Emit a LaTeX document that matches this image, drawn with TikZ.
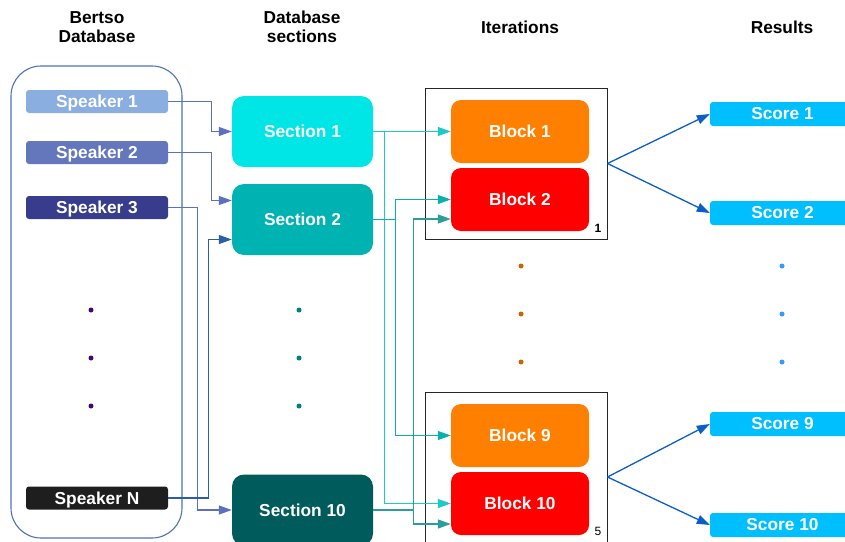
\documentclass[tikz,border=0pt]{standalone}
\usepackage{fontspec}
\setmainfont{Liberation Sans}
\usetikzlibrary{arrows.meta}
\definecolor{spkA}{HTML}{8AAEE0}
\definecolor{spkB}{HTML}{6477BD}
\definecolor{spkC}{HTML}{373D8C}
\definecolor{spkN}{HTML}{1E1E1E}
\definecolor{dbc}{HTML}{4E72B5}
\definecolor{secA}{HTML}{00E5E5}
\definecolor{secB}{HTML}{00B3B3}
\definecolor{secJ}{HTML}{005C5C}
\definecolor{lnSpk}{HTML}{5B70BE}
\definecolor{lnSpkN}{HTML}{2E5DA8}
\definecolor{lnA}{HTML}{1CCACA}
\definecolor{lnB}{HTML}{0AB0B0}
\definecolor{lnJ}{HTML}{2C9C9C}
\definecolor{blkO}{HTML}{FF8000}
\definecolor{blkR}{HTML}{FF0000}
\definecolor{scr}{HTML}{00BFFF}
\definecolor{lnScr}{HTML}{0B5EC8}
\definecolor{dotA}{HTML}{3D0A78}
\definecolor{dotB}{HTML}{008080}
\definecolor{dotC}{HTML}{CC6600}
\definecolor{dotD}{HTML}{3399FF}
\begin{document}
\begin{tikzpicture}[x=1pt,y=-1pt,
  font=\bfseries\fontsize{17.3}{19}\selectfont,
  spk/.style={rectangle, rounded corners=3pt, minimum width=142pt, minimum height=23pt, text=white, inner sep=0pt, text height=12.4pt, text depth=0pt},
  sec/.style={rectangle, rounded corners=12pt, minimum width=141pt, minimum height=71pt, text=white, inner sep=0pt},
  blk/.style={rectangle, rounded corners=10pt, minimum width=138pt, minimum height=63pt, text=white, inner sep=0pt},
  scrbox/.style={rectangle, rounded corners=3pt, minimum width=145pt, minimum height=24pt, text=white, inner sep=0pt, fill=scr},
  hdr/.style={align=center, text=black},
  itbox/.style={rectangle, draw=black!85, line width=1pt, minimum width=182pt, inner sep=0pt},
  tip/.style={-{Triangle[length=13pt,width=9pt]}},
  conn/.style={line width=1.3pt, tip}
]
\useasboundingbox (0,0) rectangle (845,541);
\clip (0,0) rectangle (845,541);
% headers
\node[hdr] (h1) at (97,27) {Bertso\\Database};
\node[hdr] (h2) at (302,27) {Database\\sections};
\node[hdr] (h3) at (520,27) {Iterations};
\node[hdr] (h4) at (782,27) {Results};
% database
\node[draw=dbc, line width=1.1pt, rounded corners=30pt, minimum width=171pt, minimum height=472pt, inner sep=0pt] (db) at (96.5,302) {};
\node[spk, fill=spkA] (s1) at (97,101.5) {Speaker 1};
\node[spk, fill=spkB] (s2) at (97,152.5) {Speaker 2};
\node[spk, fill=spkC] (s3) at (97,207.5) {Speaker 3};
\node[spk, fill=spkN] (sN) at (97,498) {Speaker N};
% sections
\node[sec, fill=secA] (c1) at (302.5,131.5) {Section 1};
\node[sec, fill=secB] (c2) at (302.5,219.5) {Section 2};
\node[sec, fill=secJ] (c10) at (302.5,510) {Section 10};
% iteration boxes
\node[itbox, minimum height=151pt] (it1) at (516,163.5) {};
\node[itbox, minimum height=170pt] (it5) at (516,477) {};
\node[blk, fill=blkO] (b1) at (520,131.5) {Block 1};
\node[blk, fill=blkR] (b2) at (520,199.5) {Block 2};
\node[blk, fill=blkO] (b9) at (520,435.5) {Block 9};
\node[blk, fill=blkR] (b10) at (520,503.5) {Block 10};
\node[font=\bfseries\fontsize{12}{12}\selectfont] (l1) at (598,228) {1};
\node[font=\fontsize{12}{12}\selectfont] (l5) at (598,531) {5};
% scores
\node[scrbox] (r1) at (782.5,114) {Score 1};
\node[scrbox] (r2) at (782.5,213) {Score 2};
\node[scrbox] (r9) at (782.5,424) {Score 9};
\node[scrbox] (r10) at (782.5,525) {Score 10};
% speaker connectors
\draw[conn, lnSpk] (s1.east) -| ([xshift=-20.5pt]c1.west) -- (c1.west);
\draw[conn, lnSpk] (s2.east) -| ([xshift=-20.5pt,yshift=19pt]c2.west) -- ([yshift=19pt]c2.west);
\draw[conn, lnSpk] (s3.east) -| ([xshift=-34pt]c10.west) -- (c10.west);
\draw[conn, lnSpkN] (sN.east) -| ([xshift=-23pt,yshift=-20pt]c2.west) -- ([yshift=-20pt]c2.west);
% section connectors
\draw[conn, lnA] (c1.east) -- (b1.west);
\draw[conn, lnA] ([xshift=11pt]c1.east) |- (b10.west);
\draw[line width=1.3pt, lnB] (c2.east) -- ([xshift=22pt]c2.east);
\draw[conn, lnB] ([xshift=22pt]c2.east) |- (b2.west);
\draw[conn, lnB] ([xshift=22pt]c2.east) |- (b9.west);
\draw[line width=1.3pt, lnJ] (c10.east) -- ([xshift=40pt]c10.east);
\draw[conn, lnJ] ([xshift=40pt]c10.east) |- ([yshift=-19.5pt]b2.west);
\draw[conn, lnJ] ([xshift=40pt]c10.east) |- ([yshift=-20.5pt]b10.west);
% score connectors
\draw[conn, lnScr] (it1.east) -- (r1.west);
\draw[conn, lnScr] (it1.east) -- (r2.west);
\draw[conn, lnScr] (it5.east) -- (r9.west);
\draw[conn, lnScr] (it5.east) -- (r10.west);
% dots
\foreach \yy in {310,358,406} {
  \fill[dotA] (91,\yy) circle (2.5);
  \fill[dotB] (299,\yy) circle (2.5);
}
\foreach \yy in {266,314,362} {
  \fill[dotC] (521,\yy) circle (2.5);
  \fill[dotD] (782,\yy) circle (2.5);
}
\end{tikzpicture}
\end{document}
